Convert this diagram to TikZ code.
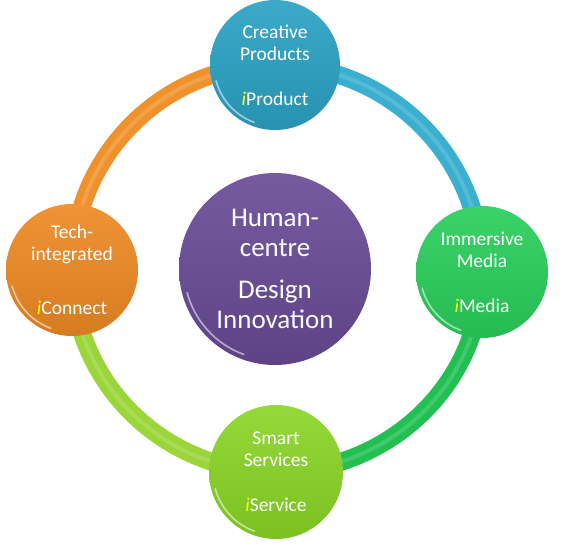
\documentclass[tikz,border=0pt]{standalone}
\usepackage{fontspec}
\setmainfont{Carlito}
\usetikzlibrary{calc}
\definecolor{nblue}{HTML}{2BA2C4}
\definecolor{ngreen}{HTML}{2ACF5C}
\definecolor{nlime}{HTML}{8AD626}
\definecolor{norange}{HTML}{EE8A24}
\definecolor{npurple}{HTML}{6A4C98}
\definecolor{ablue}{HTML}{3AAFCF}
\definecolor{agreen}{HTML}{22C052}
\definecolor{alime}{HTML}{9AD53A}
\definecolor{aorange}{HTML}{F0922C}
\definecolor{iyellow}{HTML}{FFFF00}
\newcommand{\ii}{\textit{\color{iyellow}i}}
\tikzset{
  bub/.style={circle, inner sep=0pt, text=white, align=center,
    font=\fontsize{19.5}{22}\selectfont, top color=#1!92!white, bottom color=#1!90!black},
  hub/.style={circle, inner sep=0pt, text=white, align=center,
    font=\fontsize{27}{30}\selectfont, top color=#1!92!white, bottom color=#1!88!black},
  ring/.style={line width=18pt, draw=#1},
  ringhi/.style={line width=4pt, draw=white, opacity=0.15},
  gloss/.style={draw=white, opacity=0.55, line width=1.6pt, line cap=round}
}
\begin{document}
\begin{tikzpicture}[x=1pt,y=1pt]
\useasboundingbox (0,0) rectangle (563,547);
% node centres
\coordinate (ctop) at (275,482);
\coordinate (cright) at (482,275);
\coordinate (cbottom) at (276,75);
\coordinate (cleft) at (72,277);
% ring
\draw[ring=ablue] (ctop) to[out=0,in=90] (cright);
\draw[ring=agreen] (cright) to[out=-90,in=0] (cbottom);
\draw[ring=alime] (cbottom) to[out=180,in=-90] (cleft);
\draw[ring=aorange] (cleft) to[out=90,in=180] (ctop);
\draw[ringhi] (ctop) to[out=0,in=90] (cright);
\draw[ringhi] (cright) to[out=-90,in=0] (cbottom);
\draw[ringhi] (cbottom) to[out=180,in=-90] (cleft);
\draw[ringhi] (cleft) to[out=90,in=180] (ctop);
% bubbles
\node[bub=nblue, minimum size=130pt] (top) at (ctop) {Creative\\Products\\[23pt]\ii Product};
\node[bub=ngreen, minimum size=132pt] (right) at (cright) {Immersive\\Media\\[23pt]\ii Media};
\node[bub=nlime, minimum size=134pt] (bottom) at (cbottom) {Smart\\Services\\[23pt]\ii Service};
\node[bub=norange, minimum size=132pt] (left) at (cleft) {Tech-\\integrated\\[32pt]\ii Connect};
\node[hub=npurple, minimum size=192pt] (hub) at (275,278) {Human-\\centre\\[12pt]Design\\Innovation};
% gloss highlights
\draw[gloss] ($(top)+(195:61)$) arc[start angle=195,end angle=250,radius=61];
\draw[gloss] ($(right)+(195:62)$) arc[start angle=195,end angle=250,radius=62];
\draw[gloss] ($(bottom)+(195:63)$) arc[start angle=195,end angle=250,radius=63];
\draw[gloss] ($(left)+(195:62)$) arc[start angle=195,end angle=250,radius=62];
\draw[gloss] ($(hub)+(195:91)$) arc[start angle=195,end angle=250,radius=91];
\end{tikzpicture}
\end{document}
